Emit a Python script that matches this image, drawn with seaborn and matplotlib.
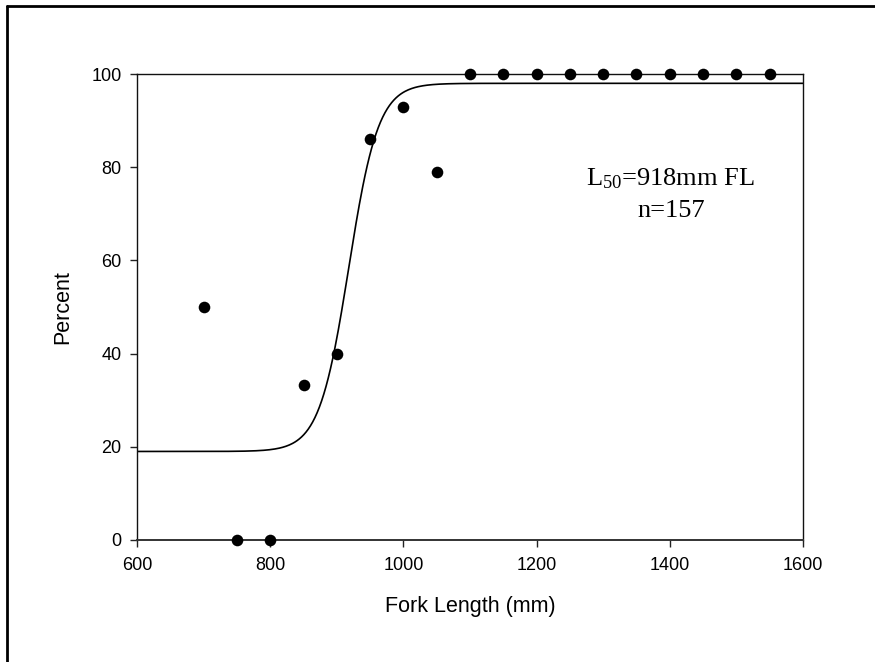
import numpy as np
import pandas as pd
import matplotlib
matplotlib.use("Agg")
import matplotlib.pyplot as plt
from matplotlib.lines import Line2D
import seaborn as sns

# Observed percent mature by fork-length bin
fork_length = [700, 750, 800, 850, 900, 950, 1000, 1050,
               1100, 1150, 1200, 1250, 1300, 1350, 1400, 1450, 1500, 1550]
percent = [50, 0, 0, 33.3, 40, 86, 93, 79,
           100, 100, 100, 100, 100, 100, 100, 100, 100, 100]

# Fitted four-parameter logistic maturity ogive
fit_min = 19.0
fit_max = 98.0
fit_l50 = 918.0
fit_slope = 0.045

x_ticks = [600, 800, 1000, 1200, 1400, 1600]
y_ticks = [0, 20, 40, 60, 80, 100]

sns.set_theme(style="white")
plt.rcParams["font.family"] = ["Liberation Sans", "DejaVu Sans"]
plt.rcParams["mathtext.fontset"] = "custom"
plt.rcParams["mathtext.rm"] = "Liberation Serif"
plt.rcParams["mathtext.it"] = "Liberation Serif:italic"
plt.rcParams["mathtext.bf"] = "Liberation Serif:bold"

fig = plt.figure(figsize=(8.75, 6.62), dpi=100)
ax = fig.add_axes([0.1566, 0.1843, 0.7611, 0.7039])

obs = pd.DataFrame({"Fork Length (mm)": fork_length, "Percent": percent})

xs = np.linspace(600, 1600, 600)
ys = fit_min + (fit_max - fit_min) / (1 + np.exp(-fit_slope * (xs - fit_l50)))
curve = pd.DataFrame({"x": xs, "y": ys})

sns.lineplot(data=curve, x="x", y="y", ax=ax, color="black", linewidth=1.2)
sns.scatterplot(data=obs, x="Fork Length (mm)", y="Percent", ax=ax,
                color="black", s=70, edgecolor="black", linewidth=0,
                clip_on=False, zorder=5)

ax.set_xlim(600, 1600)
ax.set_ylim(0, 100)
ax.set_xticks(x_ticks)
ax.set_yticks(y_ticks)
ax.set_xticklabels([str(t) for t in x_ticks])
ax.set_yticklabels([str(t) for t in y_ticks])

for side in ["left", "right", "top"]:
    ax.spines[side].set_visible(True)
    ax.spines[side].set_color("#111111")
    ax.spines[side].set_linewidth(1.0)
ax.spines["bottom"].set_visible(True)
ax.spines["bottom"].set_color("#333333")
ax.spines["bottom"].set_linewidth(1.4)

ax.tick_params(axis="both", which="major", direction="out", length=5,
               width=1.0, color="#222222", labelsize=13, labelcolor="black",
               left=True, bottom=True)
ax.tick_params(axis="x", pad=7)
ax.tick_params(axis="y", pad=6)

ax.set_xlabel("Fork Length (mm)", fontsize=15.5, color="black", labelpad=16)
ax.set_ylabel("Percent", fontsize=15.5, color="black", labelpad=13)

serif = ["Liberation Serif", "DejaVu Serif"]
ax.text(1400, 76.2, r"L$_{\mathrm{50}}$=918mm FL", ha="center", va="baseline",
        fontsize=19, family=serif, color="black")
ax.text(1402, 69.3, "n=157", ha="center", va="baseline",
        fontsize=19, family=serif, color="black")

# Frame lines along the top and left edges of the figure
fig.add_artist(Line2D([7 / 875, 1.0], [1 - 6 / 662, 1 - 6 / 662],
                      transform=fig.transFigure, color="black", linewidth=2))
fig.add_artist(Line2D([7 / 875, 7 / 875], [0.0, 1 - 6 / 662],
                      transform=fig.transFigure, color="black", linewidth=2))

fig.savefig("out.png", dpi=100)
